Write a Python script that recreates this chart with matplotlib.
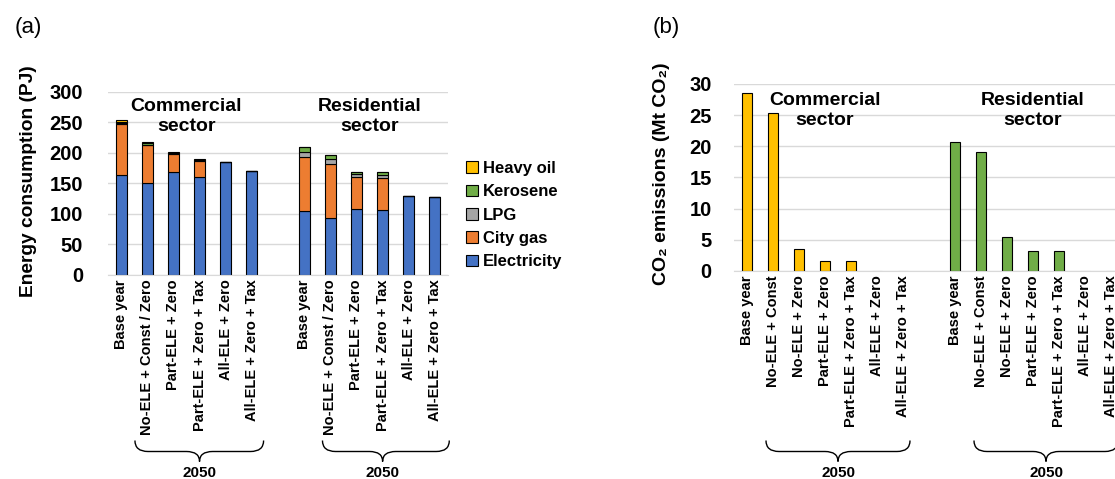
import numpy as np
import matplotlib
matplotlib.use("Agg")
import matplotlib.pyplot as plt
from matplotlib.path import Path
from matplotlib.patches import PathPatch
from matplotlib.transforms import blended_transform_factory

plt.rcParams['font.family'] = ['Liberation Sans', 'DejaVu Sans']

# ---- data ----
labels_a = ["Base year", "No-ELE + Const / Zero", "Part-ELE + Zero",
            "Part-ELE + Zero + Tax", "All-ELE + Zero", "All-ELE + Zero + Tax"]
labels_b = ["Base year", "No-ELE + Const", "No-ELE + Zero", "Part-ELE + Zero",
            "Part-ELE + Zero + Tax", "All-ELE + Zero", "All-ELE + Zero + Tax"]

fuels = ["Electricity", "City gas", "LPG", "Kerosene", "Heavy oil"]
fuel_colors = ["#4472C4", "#ED7D31", "#A5A5A5", "#70AD47", "#FFC000"]

# energy consumption (PJ)
com_energy = {
    "Electricity": [164, 150, 168, 160, 185, 171],
    "City gas":    [83, 62, 30, 27, 0, 0],
    "LPG":         [2, 1, 1, 1, 0, 0],
    "Kerosene":    [2, 3, 1, 1, 0, 0],
    "Heavy oil":   [2, 1, 1, 1, 0, 0],
}
res_energy = {
    "Electricity": [104, 94, 108, 106, 129, 128],
    "City gas":    [89, 87, 52, 52, 0, 0],
    "LPG":         [8, 9, 6, 5, 0, 0],
    "Kerosene":    [8, 7, 3, 5, 0, 0],
    "Heavy oil":   [0, 0, 0, 0, 0, 0],
}

# CO2 emissions (Mt CO2)
com_co2 = [28.5, 25.4, 3.5, 1.6, 1.55, 0, 0]
res_co2 = [20.75, 19.15, 5.4, 3.15, 3.15, 0, 0]

W, H = 1115, 479
fig = plt.figure(figsize=(W / 100, H / 100), dpi=100)

grid_c = "#D9D9D9"


def style_axis(ax):
    for s in ["left", "right", "top"]:
        ax.spines[s].set_visible(False)
    ax.spines["bottom"].set_color(grid_c)
    ax.yaxis.grid(True, color=grid_c, lw=1)
    ax.set_axisbelow(True)
    ax.tick_params(length=0)


def brace(ax, x0, x1, xm, color="black"):
    tr = blended_transform_factory(ax.transData, fig.transFigure)
    ytop = (H - 440.5) / H
    ymid = (H - 451.5) / H
    ybot = (H - 461.5) / H
    q = 0.5
    verts = [(x0, ytop), (x0, ymid), (x0 + q, ymid),
             (xm - q, ymid), (xm, ymid), (xm, ybot),
             (xm, ymid), (xm + q, ymid),
             (x1 - q, ymid), (x1, ymid), (x1, ytop)]
    codes = [Path.MOVETO, Path.CURVE3, Path.CURVE3,
             Path.LINETO, Path.CURVE3, Path.CURVE3,
             Path.CURVE3, Path.CURVE3,
             Path.LINETO, Path.CURVE3, Path.CURVE3]
    p = PathPatch(Path(verts, codes), transform=tr, fill=False,
                  edgecolor=color, lw=1, clip_on=False)
    ax.add_artist(p)
    ax.text(xm, (H - 473) / H, "2050", transform=tr, ha="center",
            va="center", fontsize=11, fontweight="bold")


# ---- panel (a) ----
ax1 = fig.add_axes([108 / W, (H - 275) / H, 340 / W, 183.3 / H])
style_axis(ax1)
bw = 0.42
pos_com = np.arange(len(labels_a))
pos_res = pos_com + len(labels_a) + 1
for block, pos in [(com_energy, pos_com), (res_energy, pos_res)]:
    bottom = np.zeros(len(pos))
    for f, c in zip(fuels, fuel_colors):
        vals = np.array(block[f], dtype=float)
        ax1.bar(pos, vals, bw, bottom=bottom, color=c, edgecolor="black",
                lw=0.8, label=f if pos is pos_com else None)
        bottom += vals

ax1.set_xlim(-0.5, pos_res[-1] + 0.5)
ax1.set_ylim(0, 300)
ax1.set_yticks(np.arange(0, 301, 50))
ax1.set_xticks(np.concatenate([pos_com, pos_res]))
ax1.set_xticklabels(labels_a + labels_a, rotation=90, fontsize=10.5,
                    fontweight="bold")
ax1.tick_params(axis="x", pad=3)
ax1.tick_params(axis="y", pad=18, labelsize=14.5)
for t in ax1.get_yticklabels():
    t.set_fontweight("bold")
ax1.set_ylabel("Energy consumption (PJ)", fontsize=13.8, fontweight="bold")
ax1.yaxis.set_label_coords(-0.21, 0.51)
ax1.text(2.5, 259, "Commercial\nsector", ha="center", va="center",
         fontsize=14, fontweight="bold", linespacing=1.25)
ax1.text(9.5, 259, "Residential\nsector", ha="center", va="center",
         fontsize=14, fontweight="bold", linespacing=1.25)

h, l = ax1.get_legend_handles_labels()
fig.legend(h[::-1], l[::-1], loc="upper left",
           bbox_to_anchor=(466 / W, (H - 161) / H), frameon=False,
           prop={"weight": "bold", "size": 12}, handlelength=0.7,
           handleheight=0.7, handletextpad=0.3, labelspacing=0.5,
           borderpad=0, borderaxespad=0)

brace(ax1, 0.53, 5.45, 3.0)
brace(ax1, 7.7, 12.55, 10.0)

# ---- panel (b) ----
ax2 = fig.add_axes([734 / W, (H - 271) / H, 390 / W, 187 / H])
style_axis(ax2)
pos_c = np.arange(len(labels_b))
pos_r = pos_c + len(labels_b) + 1
for vals, pos, col in [(com_co2, pos_c, "#FFC000"), (res_co2, pos_r, "#70AD47")]:
    edges = ["black" if v > 0 else "#BFBFBF" for v in vals]
    ax2.bar(pos, vals, bw, color=col, edgecolor=edges, lw=0.8)

ax2.set_xlim(-0.5, pos_r[-1] + 0.5)
ax2.set_ylim(0, 30)
ax2.set_yticks(np.arange(0, 31, 5))
ax2.set_xticks(np.concatenate([pos_c, pos_r]))
ax2.set_xticklabels(labels_b + labels_b, rotation=90, fontsize=10.5,
                    fontweight="bold")
ax2.tick_params(axis="x", pad=3)
ax2.tick_params(axis="y", pad=16, labelsize=14.5)
for t in ax2.get_yticklabels():
    t.set_fontweight("bold")
ax2.set_ylabel("CO\u2082 emissions (Mt CO\u2082)", fontsize=14,
               fontweight="bold")
ax2.yaxis.set_label_coords(-0.165, 0.52)
ax2.text(3, 25.8, "Commercial\nsector", ha="center", va="center",
         fontsize=14, fontweight="bold", linespacing=1.25)
ax2.text(11, 25.8, "Residential\nsector", ha="center", va="center",
         fontsize=14, fontweight="bold", linespacing=1.25)

brace(ax2, 0.73, 6.27, 3.5)
brace(ax2, 8.73, 14.27, 11.5)

fig.text(28 / W, (H - 28) / H, "(a)", fontsize=16, ha="center", va="center")
fig.text(666 / W, (H - 28) / H, "(b)", fontsize=16, ha="center", va="center")

fig.savefig("out.png", dpi=100)
